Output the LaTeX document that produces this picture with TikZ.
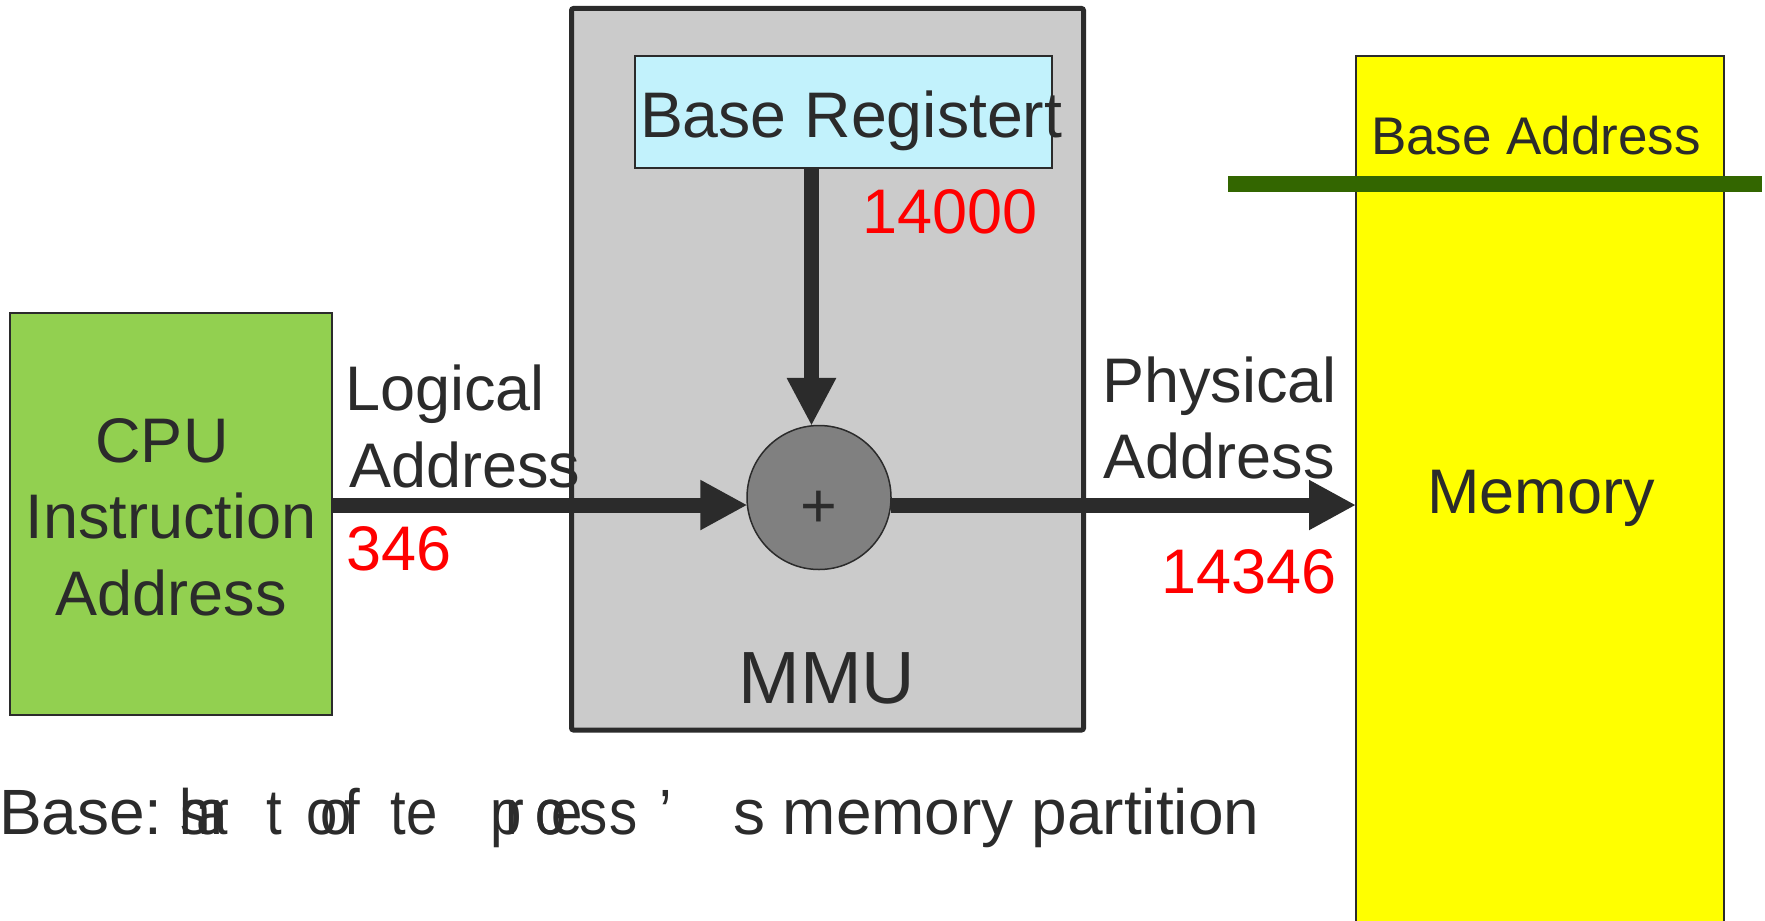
\documentclass[tikz,border=0pt]{standalone}
\usepackage{fontspec}
\setmainfont{Liberation Sans}
\newfontfamily\narrowfont[FakeStretch=0.88]{Liberation Sans}
\usetikzlibrary{arrows.meta,calc}
\definecolor{ink}{HTML}{2B2B2B}
\definecolor{cpugreen}{HTML}{92D050}
\definecolor{mmugray}{HTML}{CBCBCB}
\definecolor{regcyan}{HTML}{C2F2FC}
\definecolor{addgray}{HTML}{808080}
\definecolor{memyellow}{HTML}{FFFF00}
\definecolor{lineGreen}{HTML}{336600}
\definecolor{numred}{HTML}{FF0000}
\begin{document}
\begin{tikzpicture}[x=0.5pt,y=-0.5pt,
  box/.style={draw=ink, line width=0.75pt, rectangle, inner sep=0pt, outer sep=0pt},
  lbl/.style={font=\fontsize{31.5pt}{36pt}\selectfont, text=ink, inner sep=0pt, outer sep=0pt},
  num/.style={lbl, text=numred},
  note/.style={font=\fontsize{32pt}{36pt}\selectfont, text=ink, inner sep=0pt, outer sep=0pt, anchor=base west},
  nnote/.style={note, font=\narrowfont\fontsize{32pt}{36pt}\selectfont},
  bus/.style={draw=ink, line width=7.5pt},
  hhead/.style={-{Triangle[length=23.5pt,width=23.5pt]}},
  vhead/.style={-{Triangle[length=24pt,width=23pt]}},
]
\useasboundingbox (0,0) rectangle (1765,920);
\clip (0,0) rectangle (1765,920);
\fill[white] (0,0) rectangle (1765,920);

% boxes
\node[box, fill=cpugreen, minimum width=161pt, minimum height=201pt] (cpu) at (171,514) {};
\node[box, fill=mmugray, line width=2.5pt, rounded corners=1pt, minimum width=256pt, minimum height=360.75pt] (mmu) at (827.5,369.25) {};
\node[box, fill=regcyan, minimum width=208.5pt, minimum height=56pt] (reg) at (843.5,112) {};
\node[box, fill=memyellow, minimum width=184pt, minimum height=452pt] (mem) at (1540,508) {};
\node[circle, draw=ink, line width=0.75pt, fill=addgray, minimum size=72pt, inner sep=0pt, outer sep=0pt] (adder) at (819,497.5) {};

% connectors
\draw[bus, hhead] (cpu.east |- adder.186) -- (adder.186);
\draw[bus, hhead] (adder.354) -- (mem.west |- adder.354);
\draw[bus, vhead] (reg.south -| adder.96) -- (adder.96);

% base address line
\coordinate (gl1) at (1228,184);
\coordinate (gl2) at (1762,184);
\draw[lineGreen, line width=8pt] (gl1) -- (gl2);

% texts
\node[lbl, anchor=base] (cpuA) at (162,462) {CPU};
\node[lbl, anchor=base] (cpuB) at (171,538) {Instruction};
\node[lbl, anchor=base] (cpuC) at (171,615) {Address};
\node[lbl, font=\fontsize{32.2pt}{36pt}\selectfont, anchor=base west] (regtxt) at (640,137) {Base Registert};
\node[num, anchor=base] (n14000) at (950,233) {14000};
\node[lbl, anchor=base west] (logA) at (345,410) {Logical};
\node[lbl, anchor=base west] (logB) at (349,487) {Address};
\node[num, anchor=base west] (n346) at (346,570) {346};
\node[lbl, anchor=base east] (phyA) at (1337,402) {Physical};
\node[lbl, anchor=base east] (phyB) at (1335,478) {Address};
\node[num, anchor=base east] (n14346) at (1337,593) {14346};
\node[lbl, anchor=base] (plus) at (819,527) {+};
\node[lbl, font=\fontsize{37pt}{40pt}\selectfont, anchor=base] (mmutxt) at (827,703) {MMU};
\node[lbl, anchor=base] (memtxt) at (1541,513) {Memory};
\node[lbl, font=\fontsize{26.5pt}{30pt}\selectfont, anchor=base] (basead) at (1536,155) {Base Address};

% bottom note (glyphs as printed, overlapping)
\node[note] (t0) at (-1,834) {Base:};
\node[nnote] (ta) at (180,834) {s};
\node[nnote] (t1) at (179.5,834) {h};
\node[nnote] (t2) at (196.5,834) {a};
\node[nnote] (t3) at (210,834) {r};
\node[nnote] (t4) at (266,834) {t};
\node[nnote] (t5) at (306.5,834) {o};
\node[nnote] (t6) at (320,834) {o};
\node[nnote] (t7) at (344.5,834) {f};
\node[nnote] (t8) at (390,834) {t};
\node[nnote] (t8b) at (406,834) {e};
\node[nnote] (t9) at (490,834) {p};
\node[nnote] (t10) at (505,834) {r};
\node[nnote] (t11) at (535,834) {o};
\node[nnote] (t12) at (535,834) {c};
\node[nnote] (t13) at (551,834) {e};
\node[nnote] (t14) at (579,834) {s};
\node[nnote] (t15) at (609,834) {s};
\node[nnote] (t16) at (659,834) {’};
\node[note] (t17) at (733,834) {s memory partition};
\end{tikzpicture}
\end{document}
